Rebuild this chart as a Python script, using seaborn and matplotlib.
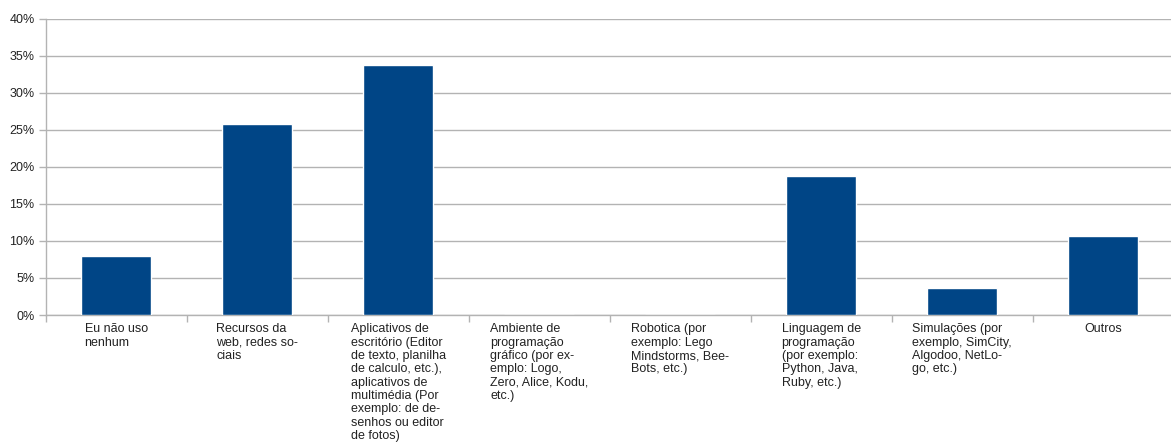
import matplotlib
matplotlib.use("Agg")
import matplotlib.pyplot as plt
from matplotlib.ticker import FixedLocator, PercentFormatter
import seaborn as sns
import pandas as pd

categories = [
    "Eu não uso\nnenhum",
    "Recursos da\nweb, redes so-\nciais",
    "Aplicativos de\nescritório (Editor\nde texto, planilha\nde calculo, etc.),\naplicativos de\nmultimédia (Por\nexemplo: de de-\nsenhos ou editor\nde fotos)",
    "Ambiente de\nprogramação\ngráfico (por ex-\nemplo: Logo,\nZero, Alice, Kodu,\netc.)",
    "Robotica (por\nexemplo: Lego\nMindstorms, Bee-\nBots, etc.)",
    "Linguagem de\nprogramação\n(por exemplo:\nPython, Java,\nRuby, etc.)",
    "Simulações (por\nexemplo, SimCity,\nAlgodoo, NetLo-\ngo, etc.)",
    "Outros",
]
percentages = [8.0, 25.8, 33.7, 0.0, 0.0, 18.7, 3.6, 10.7]

df = pd.DataFrame({"categoria": categories, "pct": percentages})

sns.set_theme(style="white")
plt.rcParams["font.family"] = ["Liberation Sans", "DejaVu Sans"]

fig = plt.figure(figsize=(11.71, 4.45), dpi=100)
ax = fig.add_axes([45.7 / 1171, 1 - 315 / 445, 1128 / 1171, (315 - 18.5) / 445])

sns.barplot(data=df, x="categoria", y="pct", order=categories,
            color="#004586", saturation=1, width=0.5, ax=ax, zorder=3)

grid_color = "#b3b3b3"
ax.set_ylim(0, 40)
ax.set_xlim(-0.5, len(categories) - 0.5)
ax.yaxis.set_major_locator(FixedLocator(range(0, 41, 5)))
ax.yaxis.set_major_formatter(PercentFormatter(decimals=0))
ax.yaxis.grid(True, color=grid_color, linewidth=1)
ax.set_axisbelow(True)

for side in ("top", "right"):
    ax.spines[side].set_visible(False)
for side in ("left", "bottom"):
    ax.spines[side].set_color(grid_color)
    ax.spines[side].set_linewidth(1)

ax.tick_params(axis="y", which="major", left=True, length=5, width=1,
               color=grid_color, labelsize=9, labelcolor="#222222", pad=3)

# category labels centered under each bar, text left-aligned within block
ax.set_xticks(range(len(categories)))
ax.set_xticklabels(categories, fontsize=9, color="#222222",
                   multialignment="left", linespacing=1.15)
ax.tick_params(axis="x", which="major", bottom=False, length=0, pad=6)

# small separator ticks at category boundaries
ax.xaxis.set_minor_locator(FixedLocator([i - 0.5 for i in range(len(categories) + 1)]))
ax.tick_params(axis="x", which="minor", bottom=True, length=5, width=1,
               color=grid_color)

ax.set_xlabel("")
ax.set_ylabel("")

fig.savefig("out.png", dpi=100)
